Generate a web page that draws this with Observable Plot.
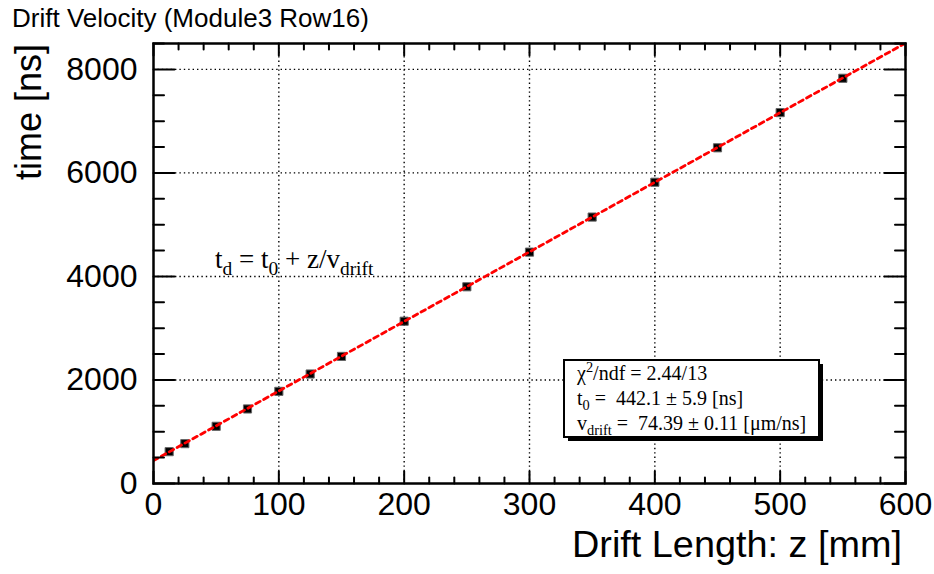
<!DOCTYPE html>
<html>
<head>
<meta charset="utf-8">
<script src="https://cdn.jsdelivr.net/npm/d3@7"></script>
<script src="https://cdn.jsdelivr.net/npm/@observablehq/plot@0.6"></script>
<style>
  body { margin: 0; background: #fff; }
  #chart { width: 934px; height: 574px; }
  #chart svg text.pre { white-space: pre; }
</style>
</head>
<body>
<div id="chart"></div>
<script>
// Measured drift times per drift length
const driftLength = [12.5, 25, 50, 75, 100, 125, 150, 200, 250, 300, 350, 400, 450, 500, 550];
const driftTime   = [615, 770, 1105, 1440, 1780, 2115, 2455, 3135, 3800, 4470, 5147, 5820, 6485, 7165, 7828];

// Linear fit result: t_d = t0 + z / v_drift
const fitT0 = 442.1;
const fitT0Err = 5.9;
const fitVdrift = 74.39;      // µm/ns
const fitVdriftErr = 0.11;
const fitChi2 = 2.44;
const fitNdf = 13;
const fitRange = [0, 600];

// Axis ticks
const xTicks = [0, 100, 200, 300, 400, 500, 600];
const xMinor = [20, 40, 60, 80, 120, 140, 160, 180, 220, 240, 260, 280, 320, 340, 360, 380, 420, 440, 460, 480, 520, 540, 560, 580];
const yTicks = [0, 2000, 4000, 6000, 8000];
const yMinor = [500, 1000, 1500, 2500, 3000, 3500, 4500, 5000, 5500, 6500, 7000, 7500, 8500];
const xGrid = [100, 200, 300, 400, 500];
const yGrid = [2000, 4000, 6000, 8000];

const points = driftLength.map((z, i) => ({z, t: driftTime[i]}));
// z in mm, v in µm/ns -> z*1000/v ns
const fitLine = fitRange.map(z => ({z, t: fitT0 + z * 1000 / fitVdrift}));

// inward tick segment for Plot.vector
const tickShape = {draw(context, l) { context.moveTo(0, 0); context.lineTo(0, -l); }};
const tickStyle = {shape: tickShape, anchor: "start", stroke: "#000", strokeWidth: 2};

const grid = {stroke: "#000", strokeOpacity: 1, strokeWidth: 1.4, strokeDasharray: "1.4,3"};

const svg = Plot.plot({
  width: 934,
  height: 574,
  marginLeft: 153,
  marginRight: 29,
  marginTop: 43,
  marginBottom: 91,
  style: {fontFamily: '"Liberation Sans", Arial, sans-serif', background: "#fff", color: "#000"},
  x: {domain: [0, 600]},
  y: {domain: [0, 8500]},
  marks: [
    Plot.gridX(xGrid, grid),
    Plot.gridY(yGrid, grid),
    Plot.dot(points, {x: "z", y: "t", symbol: "square", r: 4.6, fill: "#000", stroke: "#666", strokeWidth: 1}),
    Plot.line(fitLine, {x: "z", y: "t", stroke: "#ff0000", strokeWidth: 2.8, strokeDasharray: "5,4", clip: true}),
    // ticks pointing into the frame on all four sides
    Plot.vector(xTicks, {x: d => d, frameAnchor: "bottom", rotate: 0, length: 12, ...tickStyle}),
    Plot.vector(xMinor, {x: d => d, frameAnchor: "bottom", rotate: 0, length: 6, ...tickStyle}),
    Plot.vector(xTicks, {x: d => d, frameAnchor: "top", rotate: 180, length: 12, ...tickStyle}),
    Plot.vector(xMinor, {x: d => d, frameAnchor: "top", rotate: 180, length: 6, ...tickStyle}),
    Plot.vector(yTicks, {y: d => d, frameAnchor: "left", rotate: 90, length: 21, ...tickStyle}),
    Plot.vector(yMinor, {y: d => d, frameAnchor: "left", rotate: 90, length: 10.5, ...tickStyle}),
    Plot.vector(yTicks, {y: d => d, frameAnchor: "right", rotate: -90, length: 21, ...tickStyle}),
    Plot.vector(yMinor, {y: d => d, frameAnchor: "right", rotate: -90, length: 10.5, ...tickStyle}),
    Plot.axisX(xTicks, {anchor: "bottom", tickSize: 0, tickPadding: 9, fontSize: 32, tickFormat: "d", label: null}),
    Plot.axisY(yTicks, {anchor: "left", tickSize: 0, tickPadding: 16, fontSize: 32, tickFormat: "d", label: null}),
    Plot.frame({stroke: "#000", strokeWidth: 2.5})
  ]
});

document.getElementById("chart").append(svg);

const root = d3.select(svg);
const sans = '"Liberation Sans", Arial, sans-serif';
const serif = '"Liberation Serif", "Times New Roman", serif';

// Title and axis titles
root.append("text").attr("x", 12).attr("y", 27)
  .attr("text-anchor", "start")
  .attr("font-family", sans).attr("font-size", 26).attr("fill", "#000")
  .text("Drift Velocity (Module3 Row16)");

root.append("text").attr("x", 902).attr("y", 557)
  .attr("text-anchor", "end")
  .attr("font-family", sans).attr("font-size", 36).attr("textLength", 330)
  .attr("lengthAdjust", "spacingAndGlyphs").attr("fill", "#000")
  .text("Drift Length: z [mm]");

root.append("text").attr("transform", "translate(41,44) rotate(-90)")
  .attr("text-anchor", "end")
  .attr("font-family", sans).attr("font-size", 36).attr("fill", "#000")
  .text("time [ns]");

// Text with sub/superscript pieces
function richText(parent, x, y, size, parts) {
  const t = parent.append("text").attr("class", "pre").attr("x", x).attr("y", y)
    .attr("text-anchor", "start")
    .attr("font-family", serif).attr("font-size", size).attr("fill", "#000");
  let shift = 0;
  for (const [str, kind] of parts) {
    const target = kind === "sub" ? size * 0.25 : kind === "sup" ? -size * 0.42 : 0;
    const span = t.append("tspan").attr("dy", target - shift).text(str);
    if (kind) span.attr("font-size", size * 0.72);
    shift = target;
  }
  return t;
}

// Fit formula
richText(root, 215, 268, 27, [
  ["t"], ["d", "sub"], [" = t"], ["0", "sub"], [" + z/v"], ["drift", "sub"]
]);

// Fit statistics box
const box = {x: 564, y: 360, w: 255, h: 77};
root.append("rect").attr("x", box.x + 4).attr("y", box.y + 4)
  .attr("width", box.w).attr("height", box.h).attr("fill", "#000");
root.append("rect").attr("x", box.x).attr("y", box.y)
  .attr("width", box.w).attr("height", box.h)
  .attr("fill", "#fff").attr("stroke", "#000").attr("stroke-width", 2);

richText(root, 577, 380, 20, [
  ["\u03C7"], ["2", "sup"], [`/ndf = ${fitChi2.toFixed(2)}/${fitNdf}`]
]);
richText(root, 577, 405, 20, [
  ["t"], ["0", "sub"], [` =  ${fitT0.toFixed(1)} \u00B1 ${fitT0Err.toFixed(1)} [ns]`]
]);
richText(root, 577, 430, 20, [
  ["v"], ["drift", "sub"], [` =  ${fitVdrift.toFixed(2)} \u00B1 ${fitVdriftErr.toFixed(2)} [\u03BCm/ns]`]
]);
</script>
</body>
</html>
